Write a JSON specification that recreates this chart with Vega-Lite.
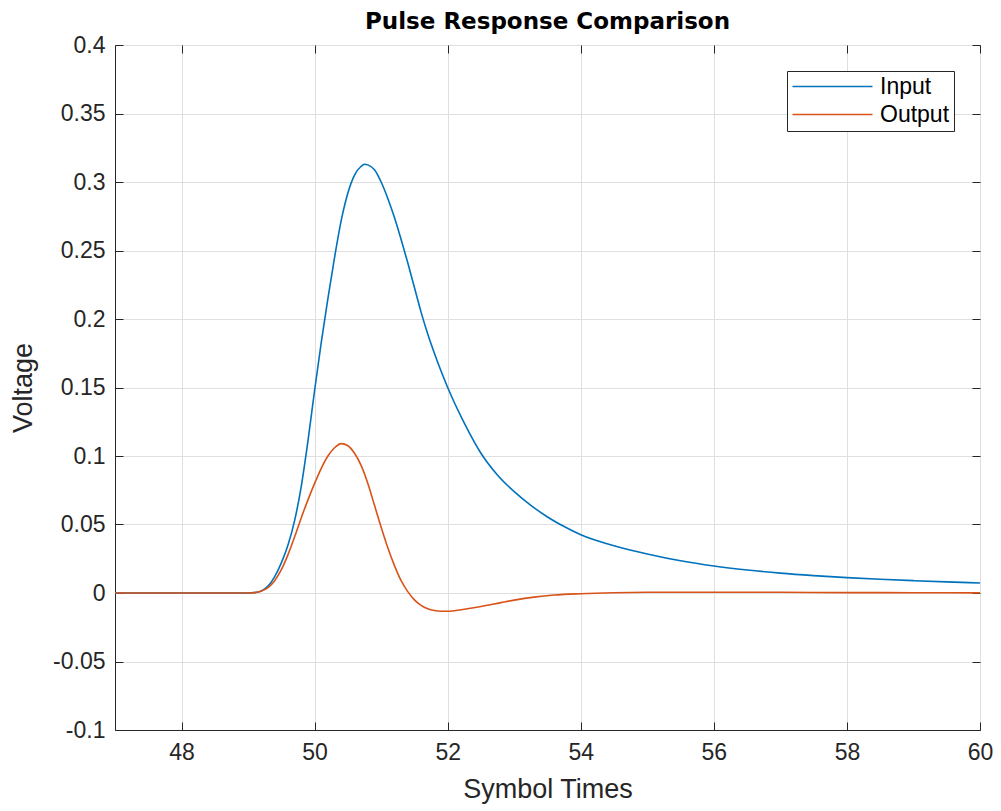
{
  "$schema": "https://vega.github.io/schema/vega-lite/v6.json",
  "width": 865,
  "height": 685,
  "autosize": {"type": "none"},
  "padding": {"left": 115, "top": 45, "right": 21, "bottom": 81},
  "background": "white",
  "title": {"text": "Pulse Response Comparison", "fontSize": 23, "font": "DejaVu Sans", "fontWeight": "bold", "color": "black", "offset": 0, "anchor": "middle"},
  "config": {"view": {"stroke": "#262626", "strokeWidth": 1}, "font": "Liberation Sans"},
  "data": {"values": [
    {"t": 47, "v": 0, "s": "Input"}, {"t": 48, "v": 0, "s": "Input"}, {"t": 49, "v": 0, "s": "Input"},
    {"t": 49.1, "v": 0.0003, "s": "Input"}, {"t": 49.2, "v": 0.0015, "s": "Input"}, {"t": 49.3, "v": 0.005, "s": "Input"},
    {"t": 49.4, "v": 0.012, "s": "Input"}, {"t": 49.5, "v": 0.022, "s": "Input"}, {"t": 49.6, "v": 0.035, "s": "Input"},
    {"t": 49.7, "v": 0.053, "s": "Input"}, {"t": 49.8, "v": 0.078, "s": "Input"}, {"t": 49.9, "v": 0.111, "s": "Input"},
    {"t": 50.0, "v": 0.148, "s": "Input"}, {"t": 50.1, "v": 0.183, "s": "Input"}, {"t": 50.2, "v": 0.215, "s": "Input"},
    {"t": 50.3, "v": 0.245, "s": "Input"}, {"t": 50.4, "v": 0.272, "s": "Input"}, {"t": 50.5, "v": 0.292, "s": "Input"},
    {"t": 50.6, "v": 0.305, "s": "Input"}, {"t": 50.7, "v": 0.3115, "s": "Input"}, {"t": 50.75, "v": 0.313, "s": "Input"},
    {"t": 50.8, "v": 0.3125, "s": "Input"}, {"t": 50.9, "v": 0.309, "s": "Input"}, {"t": 51.0, "v": 0.3, "s": "Input"},
    {"t": 51.1, "v": 0.288, "s": "Input"}, {"t": 51.2, "v": 0.274, "s": "Input"}, {"t": 51.3, "v": 0.258, "s": "Input"},
    {"t": 51.4, "v": 0.241, "s": "Input"}, {"t": 51.5, "v": 0.223, "s": "Input"}, {"t": 51.6, "v": 0.205, "s": "Input"},
    {"t": 51.7, "v": 0.189, "s": "Input"}, {"t": 51.8, "v": 0.175, "s": "Input"}, {"t": 51.9, "v": 0.162, "s": "Input"},
    {"t": 52.0, "v": 0.15, "s": "Input"}, {"t": 52.25, "v": 0.124, "s": "Input"}, {"t": 52.5, "v": 0.102, "s": "Input"},
    {"t": 52.75, "v": 0.086, "s": "Input"}, {"t": 53.0, "v": 0.074, "s": "Input"}, {"t": 53.25, "v": 0.064, "s": "Input"},
    {"t": 53.5, "v": 0.0555, "s": "Input"}, {"t": 53.75, "v": 0.0485, "s": "Input"}, {"t": 54.0, "v": 0.0425, "s": "Input"},
    {"t": 54.5, "v": 0.0345, "s": "Input"}, {"t": 55.0, "v": 0.0285, "s": "Input"}, {"t": 55.5, "v": 0.0235, "s": "Input"},
    {"t": 56.0, "v": 0.0197, "s": "Input"}, {"t": 56.5, "v": 0.0168, "s": "Input"}, {"t": 57.0, "v": 0.0145, "s": "Input"},
    {"t": 57.5, "v": 0.0127, "s": "Input"}, {"t": 58.0, "v": 0.0112, "s": "Input"}, {"t": 58.5, "v": 0.01, "s": "Input"},
    {"t": 59.0, "v": 0.009, "s": "Input"}, {"t": 59.5, "v": 0.0081, "s": "Input"}, {"t": 60.0, "v": 0.0073, "s": "Input"},
    {"t": 47, "v": 0, "s": "Output"}, {"t": 48, "v": 0, "s": "Output"}, {"t": 49, "v": 0, "s": "Output"},
    {"t": 49.1, "v": 0.0003, "s": "Output"}, {"t": 49.2, "v": 0.0015, "s": "Output"}, {"t": 49.3, "v": 0.004, "s": "Output"},
    {"t": 49.4, "v": 0.009, "s": "Output"}, {"t": 49.5, "v": 0.017, "s": "Output"}, {"t": 49.6, "v": 0.028, "s": "Output"},
    {"t": 49.7, "v": 0.041, "s": "Output"}, {"t": 49.8, "v": 0.055, "s": "Output"}, {"t": 49.9, "v": 0.068, "s": "Output"},
    {"t": 50.0, "v": 0.08, "s": "Output"}, {"t": 50.1, "v": 0.091, "s": "Output"}, {"t": 50.2, "v": 0.1, "s": "Output"},
    {"t": 50.3, "v": 0.106, "s": "Output"}, {"t": 50.4, "v": 0.109, "s": "Output"}, {"t": 50.5, "v": 0.1075, "s": "Output"},
    {"t": 50.6, "v": 0.102, "s": "Output"}, {"t": 50.7, "v": 0.093, "s": "Output"}, {"t": 50.8, "v": 0.08, "s": "Output"},
    {"t": 50.9, "v": 0.064, "s": "Output"}, {"t": 51.0, "v": 0.048, "s": "Output"}, {"t": 51.1, "v": 0.033, "s": "Output"},
    {"t": 51.2, "v": 0.02, "s": "Output"}, {"t": 51.3, "v": 0.009, "s": "Output"}, {"t": 51.4, "v": 0.001, "s": "Output"},
    {"t": 51.5, "v": -0.005, "s": "Output"}, {"t": 51.6, "v": -0.009, "s": "Output"}, {"t": 51.7, "v": -0.0115, "s": "Output"},
    {"t": 51.8, "v": -0.0128, "s": "Output"}, {"t": 51.9, "v": -0.0133, "s": "Output"}, {"t": 52.0, "v": -0.0133, "s": "Output"},
    {"t": 52.2, "v": -0.0122, "s": "Output"}, {"t": 52.5, "v": -0.0098, "s": "Output"}, {"t": 52.8, "v": -0.007, "s": "Output"},
    {"t": 53.0, "v": -0.0052, "s": "Output"}, {"t": 53.3, "v": -0.003, "s": "Output"}, {"t": 53.6, "v": -0.0015, "s": "Output"},
    {"t": 54.0, "v": -0.0005, "s": "Output"}, {"t": 54.5, "v": 0.0002, "s": "Output"}, {"t": 55.0, "v": 0.0005, "s": "Output"},
    {"t": 56.0, "v": 0.0006, "s": "Output"}, {"t": 57.0, "v": 0.0005, "s": "Output"}, {"t": 58.0, "v": 0.0003, "s": "Output"},
    {"t": 59.0, "v": 0.0002, "s": "Output"}, {"t": 60.0, "v": 0.0001, "s": "Output"}
  ]},
  "layer": [
    {
      "mark": {"type": "line", "interpolate": "monotone", "strokeWidth": 1.6, "clip": true},
      "encoding": {
        "x": {"field": "t", "type": "quantitative",
          "scale": {"domain": [47, 60], "nice": false, "zero": false},
          "axis": {"values": [48, 50, 52, 54, 56, 58, 60], "title": "Symbol Times", "titleFont": "Liberation Sans", "titleFontSize": 27, "titleFontWeight": "normal", "titleColor": "#262626", "titlePadding": 12,
            "labelFont": "Liberation Sans", "labelFontSize": 23, "labelColor": "#262626", "labelPadding": 19, "labelExpr": "'' + datum.value",
            "tickSize": -8, "tickColor": "#262626", "domainColor": "#262626", "grid": true, "gridColor": "#dfdfdf", "gridWidth": 1, "labelFlush": false}},
        "y": {"field": "v", "type": "quantitative",
          "scale": {"domain": [-0.1, 0.4], "nice": false, "zero": false},
          "axis": {"values": [-0.1, -0.05, 0, 0.05, 0.1, 0.15, 0.2, 0.25, 0.3, 0.35, 0.4], "title": "Voltage", "titleFont": "Liberation Sans", "titleFontSize": 27, "titleFontWeight": "normal", "titleColor": "#262626", "titlePadding": 15,
            "labelFont": "Liberation Sans", "labelFontSize": 23, "labelColor": "#262626", "labelPadding": 18, "labelExpr": "'' + datum.value",
            "tickSize": -8, "tickColor": "#262626", "domainColor": "#262626", "grid": true, "gridColor": "#dfdfdf", "gridWidth": 1, "labelFlush": false}},
        "color": {"field": "s", "type": "nominal",
          "scale": {"domain": ["Input", "Output"], "range": ["#0072BD", "#D95319"]},
          "legend": {"title": null, "orient": "none", "legendX": 672, "legendY": 26, "direction": "vertical",
            "symbolType": "M-1,0H7", "symbolSize": 400, "symbolStrokeWidth": 1.6,
            "labelFont": "Liberation Sans", "labelFontSize": 23, "labelColor": "black", "labelOffset": 66,
            "strokeColor": "#262626", "fillColor": "white", "padding": 4, "rowPadding": 4}}
      }
    },
    {
      "mark": {"type": "line", "opacity": 0},
      "encoding": {
        "x": {"field": "t", "type": "quantitative", "scale": {"domain": [47, 60], "nice": false, "zero": false},
          "axis": {"orient": "top", "values": [48, 50, 52, 54, 56, 58, 60], "labels": false, "title": null, "grid": false, "domain": false, "tickSize": -8, "tickColor": "#262626"}},
        "y": {"field": "v", "type": "quantitative", "scale": {"domain": [-0.1, 0.4], "nice": false, "zero": false},
          "axis": {"orient": "right", "values": [-0.1, -0.05, 0, 0.05, 0.1, 0.15, 0.2, 0.25, 0.3, 0.35, 0.4], "labels": false, "title": null, "grid": false, "domain": false, "tickSize": -8, "tickColor": "#262626"}}
      }
    }
  ],
  "resolve": {"axis": {"x": "independent", "y": "independent"}}
}
